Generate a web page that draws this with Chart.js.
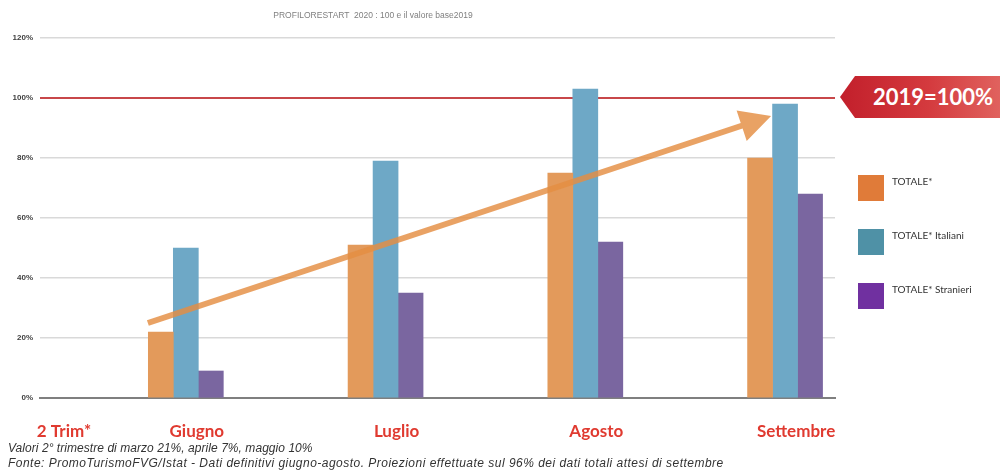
<!DOCTYPE html>
<html>
<head>
<meta charset="utf-8">
<script src="https://cdn.jsdelivr.net/npm/chart.js@4.4.1/dist/chart.umd.min.js"></script>
<style>
  html, body { margin: 0; padding: 0; background: #fff; }
  #wrap { position: relative; width: 1000px; height: 470px; overflow: hidden; }
  #c { position: absolute; left: 0; top: 0; }
  #title { position: absolute; left: 0; top: 10px; width: 746px; text-align: center;
    font: 8.5px "Liberation Sans", Arial, sans-serif; color: #7f7f7f; white-space: pre; }
  #badge { position: absolute; left: 840px; top: 76px; width: 160px; height: 42px;
    background: linear-gradient(90deg, #c21f2b 0%, #d43a3e 55%, #e0625e 100%);
    clip-path: polygon(0 50%, 15px 0, 100% 0, 100% 100%, 15px 100%);
    color: #fff; font: bold 22px Lato, "Open Sans", sans-serif; line-height: 42px;
    text-align: right; padding-right: 7px; box-sizing: border-box; }
  #legend { position: absolute; left: 858px; top: 175px; }
  .li { position: absolute; left: 0; height: 26px; white-space: nowrap; }
  .sw { position: absolute; left: 0; top: 0; width: 26px; height: 26px; }
  .lt { position: absolute; left: 34px; top: 0; line-height: 26px; font: 10px Lato, "Noto Sans", sans-serif; color: #333; }
  .note { position: absolute; left: 8px; font: italic 12px "Liberation Sans", Arial, sans-serif; color: #333; white-space: nowrap; }
</style>
</head>
<body>
<div id="wrap">
  <canvas id="c" width="1000" height="470"></canvas>
  <div id="title">PROFILORESTART  2020 : 100 e il valore base2019</div>
  <div id="badge">2019=100%</div>
  <div id="legend"></div>
  <div class="note" id="n1" style="top:441px; letter-spacing:0.05px">Valori 2° trimestre di marzo 21%, aprile 7%, maggio 10%</div>
  <div class="note" id="n2" style="top:456px; letter-spacing:0.48px">Fonte: PromoTurismoFVG/Istat - Dati definitivi giugno-agosto. Proiezioni effettuate sul 96% dei dati totali attesi di settembre</div>
</div>
<script>
// ---- data ----
const categories = ['2 Trim*', 'Giugno', 'Luglio', 'Agosto', 'Settembre'];
const seriesNames = ['TOTALE*', 'TOTALE* Italiani', 'TOTALE* Stranieri'];
const totale    = [null, 22, 51, 75, 80];
const italiani  = [null, 50, 79, 103, 98];
const stranieri = [null, 9, 35, 52, 68];
const yTicks = [0, 20, 40, 60, 80, 100, 120];
const baseValue = 100;
// trend arrow (category units, percent)
const trendX = [0.81, 3.93];
const trendY = [25, 94];

// ---- styles ----
const barColors = ['#E39A5B', '#6EA8C6', '#7A66A0'];
const legendColors = ['#E07B39', '#4F91A6', '#7030A0'];

const seriesValues = [totale, italiani, stranieri];
const datasets = seriesNames.map((name, s) => ({
  label: name,
  data: categories.map((c, i) => ({ x: i, y: seriesValues[s][i] })),
  backgroundColor: barColors[s],
  borderWidth: 0,
  barThickness: 25,
  grouped: true
}));

// legend (HTML, built from series)
const lg = document.getElementById('legend');
seriesNames.forEach((n, i) => {
  const d = document.createElement('div');
  d.className = 'li';
  d.style.top = (i * 54) + 'px';
  d.innerHTML = '<div class="sw" style="background:' + legendColors[i] + '"></div><div class="lt"></div>';
  d.querySelector('.lt').textContent = n;
  lg.appendChild(d);
});

const arrowPlugin = {
  id: 'trendArrow',
  afterDatasetsDraw(chart) {
    const { ctx, scales: { x, y } } = chart;
    const x0 = x.getPixelForValue(trendX[0]), y0 = y.getPixelForValue(trendY[0]);
    const x1 = x.getPixelForValue(trendX[1]), y1 = y.getPixelForValue(trendY[1]);
    const ang = Math.atan2(y1 - y0, x1 - x0);
    const ux = Math.cos(ang), uy = Math.sin(ang), nx = -uy, ny = ux;
    const headLen = 31, headHalf = 16, sh = 3;
    const bx = x1 - ux * headLen, by = y1 - uy * headLen;
    ctx.save();
    ctx.beginPath();
    ctx.moveTo(x0 + nx * sh, y0 + ny * sh);
    ctx.lineTo(bx + nx * sh, by + ny * sh);
    ctx.lineTo(bx + nx * headHalf, by + ny * headHalf);
    ctx.lineTo(x1, y1);
    ctx.lineTo(bx - nx * headHalf, by - ny * headHalf);
    ctx.lineTo(bx - nx * sh, by - ny * sh);
    ctx.lineTo(x0 - nx * sh, y0 - ny * sh);
    ctx.closePath();
    ctx.fillStyle = 'rgba(228,142,66,0.82)';
    ctx.fill();
    ctx.restore();
  }
};

const trimLabelAt = 0.335;

new Chart(document.getElementById('c'), {
  type: 'bar',
  data: { datasets },
  plugins: [arrowPlugin],
  options: {
    responsive: false,
    animation: false,
    events: [],
    layout: { padding: { left: 0, right: 165, top: 38, bottom: 28 } },
    plugins: { legend: { display: false }, title: { display: false }, tooltip: { enabled: false } },
    scales: {
      x: {
        type: 'linear',
        offset: false,
        bounds: 'data',
        min: 0.27,
        max: 4.25,
        afterBuildTicks: (s) => { s.ticks = categories.map((c, i) => ({ value: i === 0 ? trimLabelAt : i })); },
        afterFit: (s) => { s.height = 44; },
        grid: { display: false, drawTicks: false, offset: false },
        border: { display: true, color: '#7f7f7f', width: 2 },
        ticks: {
          autoSkip: false,
          maxRotation: 0,
          padding: 23,
          labelOffset: 11,
          color: '#E03A30',
          font: { family: 'Lato, "Open Sans", sans-serif', size: 17, weight: 'bold' },
          callback: (v, i) => categories[i]
        }
      },
      y: {
        min: 0,
        max: 120,
        afterBuildTicks: (s) => { s.ticks = yTicks.map(v => ({ value: v })); },
        afterFit: (s) => { s.width = 40; },
        border: { display: false },
        grid: {
          drawTicks: false,
          color: (c) => c.tick.value === baseValue ? '#C8474A' : (c.tick.value === 0 ? '#7f7f7f' : '#D9D9D9'),
          lineWidth: (c) => c.tick.value === baseValue ? 2 : 1.5
        },
        ticks: {
          padding: 7,
          color: '#404040',
          font: { family: '"Liberation Sans", Arial, sans-serif', size: 8, weight: 'bold' },
          callback: (v) => v + '%'
        }
      }
    }
  }
});
</script>
</body>
</html>
